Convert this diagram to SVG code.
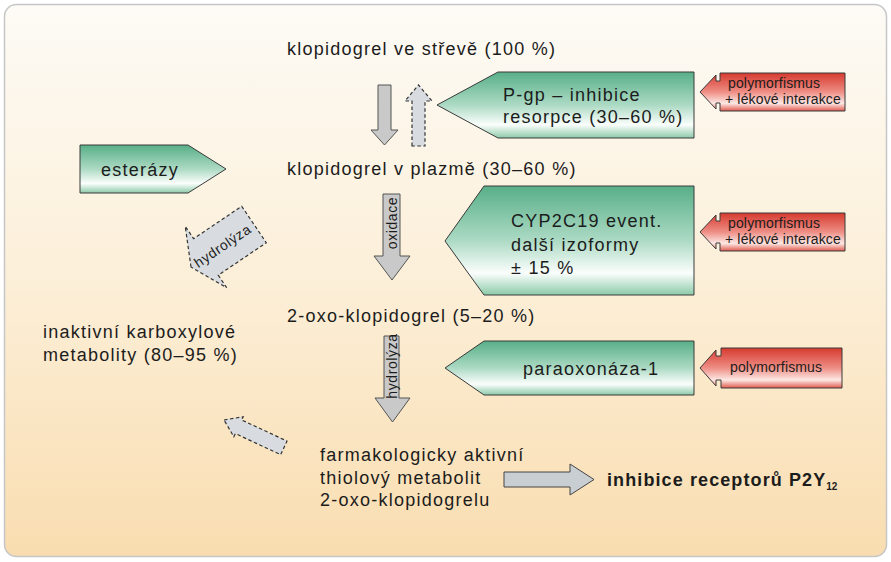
<svg xmlns="http://www.w3.org/2000/svg" width="891" height="562" viewBox="0 0 891 562">
<defs>
<linearGradient id="bg" x1="0" y1="0" x2="0" y2="1">
<stop offset="0" stop-color="#fdfbf6"/>
<stop offset="0.5" stop-color="#fcefd8"/>
<stop offset="1" stop-color="#f9ddb0"/>
</linearGradient>
<linearGradient id="green" x1="0" y1="0" x2="0" y2="1">
<stop offset="0" stop-color="#58af88"/>
<stop offset="0.5" stop-color="#acdac4"/>
<stop offset="0.8" stop-color="#fbfefc"/>
<stop offset="1" stop-color="#8ccaa9"/>
</linearGradient>
<linearGradient id="red" x1="0" y1="0" x2="0" y2="1">
<stop offset="0" stop-color="#d63a2f"/>
<stop offset="0.5" stop-color="#ee8e85"/>
<stop offset="0.8" stop-color="#fde8e4"/>
<stop offset="1" stop-color="#e05a4e"/>
</linearGradient>
<style>
text{font-family:"Liberation Sans",Arial,sans-serif;fill:#1c1c1c}
.t{font-size:18px;letter-spacing:1.25px}
.b{font-size:18px;font-weight:bold;letter-spacing:1.1px}
.s{font-size:14px;letter-spacing:0.15px}
.v{font-size:14px;letter-spacing:0.6px}
.g{fill:url(#green);stroke:#3a3a3a;stroke-width:1}
.r{fill:url(#red);stroke:#3a3a3a;stroke-width:1}
.a{fill:#c9c9c9;stroke:#555;stroke-width:1}
.d{fill:#d8dce0;stroke:#333;stroke-width:1.2;stroke-dasharray:3.5 2.5}
.h{fill:#c9ced3;stroke:#444;stroke-width:1}
</style>
</defs>
<rect x="4.5" y="4.5" width="882" height="552" rx="12" fill="url(#bg)" stroke="#c6c6c6" stroke-width="1.5"/>

<g id="connectors">
<path class="a" d="M378,85 H391 V130 H398 L384.5,145 L371,130 H378 Z"/>
<path class="d" d="M412,146 V101 H405 L418.5,85 L432,101 H425 V146 Z"/>
<path class="a" d="M383,194 H400 V256 H410 L392,280 L374,256 H383 Z"/>
<text class="v" transform="translate(396.5,223) rotate(-90)" text-anchor="middle">oxidace</text>
<path class="a" d="M384,336 H399 V398 H410 L392.5,422 L375,398 H384 Z"/>
<text class="v" transform="translate(396.5,366) rotate(-90)" text-anchor="middle">hydrolýza</text>
<g transform="translate(191,267) rotate(-34)">
<path class="d" d="M0,0 L18,-37 L18,-22 L76,-22 L76,22 L18,22 L18,37 Z"/>
<text class="v" x="38" y="5" text-anchor="middle">hydrolýza</text>
</g>
<g transform="translate(224,420) rotate(25)">
<path class="d" d="M0,0 L16,-11 L16,-7.5 L66,-7.5 L66,7.5 L16,7.5 L16,11 Z"/>
</g>
<path class="h" d="M504,472 H570 V464 L594,479.5 L570,495 V487 H504 Z"/>
</g>

<g id="n-strevo"><text class="t" x="287" y="55">klopidogrel ve střevě (100 %)</text></g>
<g id="n-plazma"><text class="t" x="287" y="175">klopidogrel v plazmě (30–60 %)</text></g>
<g id="n-oxo"><text class="t" x="287" y="322">2-oxo-klopidogrel (5–20 %)</text></g>
<g id="n-inaktivni"><text class="t" x="43" y="338">inaktivní karboxylové</text><text class="t" x="43" y="361">metabolity (80–95 %)</text></g>
<g id="n-aktivni"><text class="t" x="320" y="461">farmakologicky aktivní</text><text class="t" x="320" y="484">thiolový metabolit</text><text class="t" x="320" y="506">2-oxo-klopidogrelu</text></g>
<g id="n-inhibice"><text class="b" x="607" y="486">inhibice receptorů P2Y<tspan font-size="10" dy="4" letter-spacing="0">12</tspan></text></g>

<g id="n-pgp">
<path class="g" d="M437,105 L498,72 H694 V138 H498 Z"/>
<text class="t" x="503" y="101">P-gp – inhibice</text>
<text class="t" x="503" y="123">resorpce (30–60 %)</text>
</g>
<g id="n-esterazy">
<path class="g" d="M80,145 H188 L226,169 L188,193 H80 Z"/>
<text class="t" x="101" y="176">esterázy</text>
</g>
<g id="n-cyp">
<path class="g" d="M445,241 L484,186 H694 V295 H484 Z"/>
<text class="t" x="511" y="227">CYP2C19 event.</text>
<text class="t" x="511" y="251">další izoformy</text>
<text class="t" x="511" y="274">± 15 %</text>
</g>
<g id="n-para">
<path class="g" d="M445,368 L484,341 H694 V395 H484 Z"/>
<text class="t" x="523" y="375">paraoxonáza-1</text>
</g>

<g id="n-poly1">
<path class="r" d="M700,92 L716,75 V81 H720 V73 H845 V111 H720 V103 H716 V109 Z"/>
<text class="s" x="728" y="88">polymorfismus</text>
<text class="s" x="725" y="104">+ lékové interakce</text>
</g>
<g id="n-poly2">
<path class="r" d="M700,232 L716,215 V221 H720 V213 H845 V251 H720 V243 H716 V249 Z"/>
<text class="s" x="728" y="228">polymorfismus</text>
<text class="s" x="725" y="244">+ lékové interakce</text>
</g>
<g id="n-poly3">
<path class="r" d="M700,368 L716,350 V356 H721 V348 H842 V388 H721 V380 H716 V386 Z"/>
<text class="s" x="730" y="372">polymorfismus</text>
</g>
</svg>
